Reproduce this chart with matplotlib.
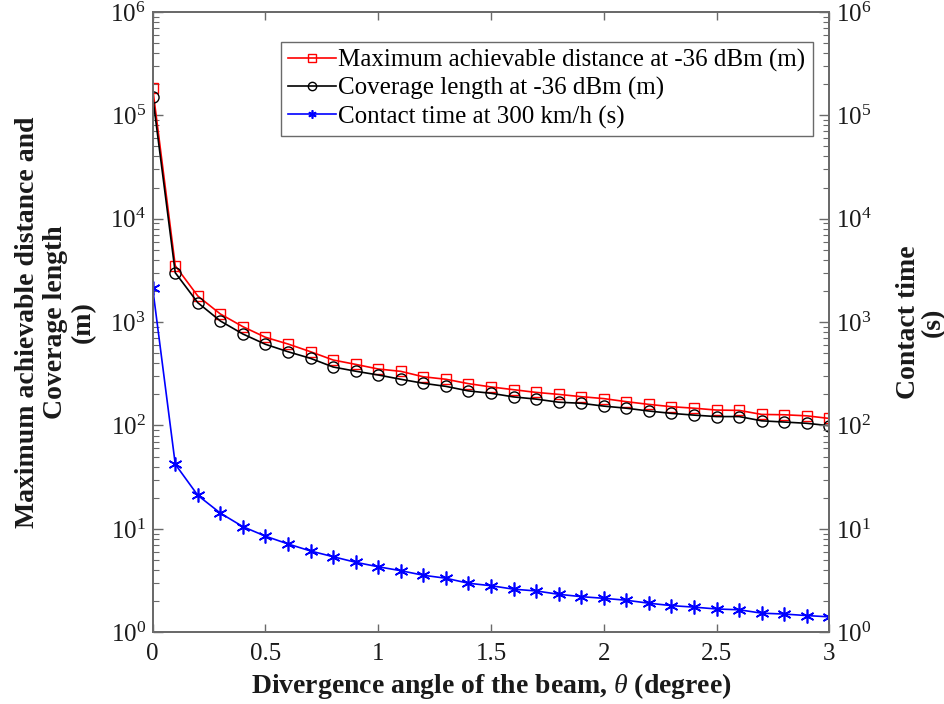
import matplotlib
matplotlib.use('Agg')
import matplotlib.pyplot as plt
import numpy as np

plt.rcParams['font.family'] = ['Liberation Serif', 'DejaVu Serif']
plt.rcParams['mathtext.fontset'] = 'custom'
plt.rcParams['mathtext.rm'] = 'Liberation Serif'
plt.rcParams['mathtext.it'] = 'Liberation Serif:italic'
plt.rcParams['mathtext.bf'] = 'Liberation Serif:bold'

# divergence angle (degree)
theta = [0.0, 0.1, 0.2, 0.3, 0.4, 0.5, 0.6, 0.7, 0.8, 0.9, 1.0,
         1.1, 1.2, 1.3, 1.4, 1.5, 1.6, 1.7, 1.8, 1.9, 2.0,
         2.1, 2.2, 2.3, 2.4, 2.5, 2.6, 2.7, 2.8, 2.9, 3.0]

# maximum achievable distance at -36 dBm (m)
max_dist = [182000, 3510, 1787, 1198, 903, 713, 614, 517, 430, 390, 352,
            334, 296, 280, 254, 236, 222, 209, 200, 190, 182,
            170, 160, 152, 147, 141, 140, 128, 127, 124, 117]

# coverage length at -36 dBm (m)
coverage = [151000, 3005, 1541, 1025, 767, 610, 517, 446, 368, 335, 308,
            280, 256, 239, 216, 205, 189, 180, 168, 164, 154,
            147, 138, 131, 126, 122, 122, 111, 108, 105, 99.5]

# contact time at 300 km/h (s)
contact = [2120, 42.2, 21.1, 14.2, 10.5, 8.5, 7.15, 6.11, 5.38, 4.75, 4.3,
           3.94, 3.56, 3.33, 2.98, 2.82, 2.61, 2.51, 2.33, 2.21, 2.13,
           2.04, 1.91, 1.81, 1.75, 1.68, 1.65, 1.53, 1.50, 1.45, 1.41]

axis_col = '#6a6a6a'
txt_col = '#1a1a1a'
asterisk = (6, 2, 0)

fig = plt.figure(figsize=(9.45, 7.04), dpi=100)
ax = fig.add_axes([0.1616, 0.1019, 0.716, 0.8811])
ax2 = ax.twinx()

l1, = ax.plot(theta, max_dist, '-s', color='red', lw=1.2, ms=7, mfc='none', mew=1.0,
              label='Maximum achievable distance at -36 dBm (m)')
l2, = ax.plot(theta, coverage, '-o', color='black', lw=1.2, ms=8, mfc='none', mew=1.0,
              label='Coverage length at -36 dBm (m)')
l3, = ax2.plot(theta, contact, '-', marker=asterisk, color='blue', lw=1.2, ms=10,
               mew=1.2, label='Contact time at 300 km/h (s)')

for a in (ax, ax2):
    a.set_yscale('log')
    a.set_ylim(1, 1e6)
    a.set_xlim(0, 3)
    for s in a.spines.values():
        s.set_color(axis_col)
        s.set_linewidth(1.3)

ax.set_xticks([0, 0.5, 1, 1.5, 2, 2.5, 3])
ax.set_xticklabels(['0', '0.5', '1', '1.5', '2', '2.5', '3'])
ax.tick_params(axis='x', which='both', direction='in', top=True, length=6,
               width=1.0, color=axis_col, labelsize=18, labelcolor=txt_col, pad=8)
ax.tick_params(axis='y', which='major', direction='in', length=7, width=1.0,
               color=axis_col, labelsize=18, labelcolor=txt_col, pad=5)
ax.tick_params(axis='y', which='minor', direction='in', length=4, width=0.8,
               color=axis_col)
ax2.tick_params(axis='y', which='major', direction='in', length=7, width=1.0,
                color=axis_col, labelsize=18, labelcolor=txt_col, pad=5)
ax2.tick_params(axis='y', which='minor', direction='in', length=4, width=0.8,
                color=axis_col)
ax.set_yticks([10.0**k for k in range(7)])
ax2.set_yticks([10.0**k for k in range(7)])

ax.set_xlabel(r'Divergence angle of the beam, $\theta$ (degree)',
              fontsize=20, fontweight='bold', color=txt_col, labelpad=4)
ax.set_ylabel('Maximum achievable distance and\nCoverage length\n(m)',
              fontsize=20, fontweight='bold', color=txt_col, linespacing=1.15, labelpad=10)
ax2.set_ylabel('Contact time\n(s)', fontsize=20, fontweight='bold', color=txt_col,
               linespacing=1.0, labelpad=17)

leg = ax.legend(handles=[l1, l2, l3], loc='upper right', bbox_to_anchor=(0.9755, 0.952),
                fontsize=18, handlelength=1.9, handletextpad=0.1, borderpad=0.3,
                labelspacing=0.2, fancybox=False, framealpha=1, borderaxespad=0)
leg.get_frame().set_edgecolor(axis_col)
leg.get_frame().set_linewidth(1.0)
for h in leg.legend_handles:
    h.set_markersize(6)

fig.savefig('out.png', dpi=100)
